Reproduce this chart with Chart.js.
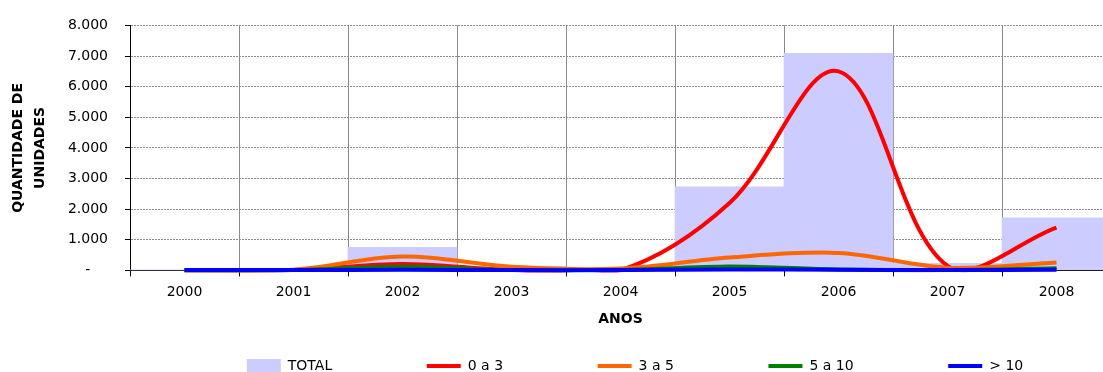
<!DOCTYPE html>
<html>
<head>
<meta charset="utf-8">
<script src="https://cdn.jsdelivr.net/npm/chart.js@4/dist/chart.umd.min.js"></script>
<style>
  html, body { margin: 0; padding: 0; overflow: hidden; background: #fff; }
  #wrap { position: absolute; left: 0; top: 0; width: 1270px; height: 383px; }
</style>
</head>
<body>
<div id="wrap"><canvas id="unidades"></canvas></div>
<script>
const anos = ['2000', '2001', '2002', '2003', '2004', '2005', '2006', '2007', '2008']
const total = [10, 40, 750, 130, 60, 2730, 7090, 230, 1720]
const de0a3 = [0, 10, 210, 10, 10, 2200, 6500, 150, 1400]
const de3a5 = [0, 20, 450, 120, 60, 420, 570, 90, 260]
const de5a10 = [0, 10, 120, 10, 10, 130, 30, 10, 70]
const acima10 = [10, 10, 20, 10, 10, 30, 20, 10, 20]
const yTicks = [0, 1000, 2000, 3000, 4000, 5000, 6000, 7000, 8000]

const fonte = 'DejaVu Sans'
const pad = ' '.repeat(19)

function milhar (v) {
  if (v === 0) return '-    '
  return String(v).replace(/\B(?=(\d{3})+(?!\d))/g, '.')
}

function linha (label, data, color, order) {
  return {
    type: 'line',
    label: label,
    data: data,
    borderColor: color,
    backgroundColor: color,
    borderWidth: 4,
    pointRadius: 0,
    pointStyle: 'line',
    tension: 0.35,
    capBezierPoints: false,
    clip: { left: 2, right: 2, top: 2, bottom: 2 },
    fill: false,
    order: order
  }
}

new Chart(document.getElementById('unidades'), {
  type: 'bar',
  data: {
    labels: anos,
    datasets: [
      {
        type: 'bar',
        label: 'TOTAL',
        data: total,
        backgroundColor: '#CCCCFF',
        borderWidth: 0,
        barPercentage: 1,
        categoryPercentage: 1,
        pointStyle: 'rect',
        order: 5
      },
      linha('0 a 3', de0a3, '#FF0000', 4),
      linha('3 a 5', de3a5, '#FF6600', 3),
      linha('5 a 10', de5a10, '#008000', 2),
      linha('> 10', acima10, '#0000FF', 1)
    ]
  },
  options: {
    responsive: true,
    maintainAspectRatio: false,
    animation: false,
    layout: { padding: { left: 0, right: 0, top: 21, bottom: 0 } },
    plugins: {
      tooltip: { enabled: false },
      legend: {
        position: 'bottom',
        labels: {
          usePointStyle: true,
          pointStyleWidth: 34,
          padding: 10,
          color: '#000',
          font: { family: fonte, size: 14 },
          sort: (a, b) => a.datasetIndex - b.datasetIndex,
          generateLabels: (chart) => {
            const items = Chart.defaults.plugins.legend.labels.generateLabels(chart)
            items.forEach((it) => {
              if (it.datasetIndex < 4) it.text = it.text + pad
            })
            return items
          }
        }
      }
    },
    scales: {
      x: {
        grid: {
          color: '#8a8a8a',
          tickColor: '#000',
          tickLength: 6,
          offset: true
        },
        border: { color: '#000', width: 1 },
        ticks: { color: '#000', padding: 8, font: { family: fonte, size: 14 } },
        title: {
          display: true,
          text: 'ANOS',
          color: '#000',
          font: { family: fonte, size: 14, weight: 'bold' },
          padding: { top: 2, bottom: 21 }
        }
      },
      y: {
        min: 0,
        max: 8000,
        afterFit: (scale) => { scale.width = 130 },
        afterBuildTicks: (scale) => { scale.ticks = yTicks.map((v) => ({ value: v })) },
        grid: { color: '#8c8c8c', tickColor: '#000', tickLength: 5 },
        border: { color: '#000', width: 1, dash: [2, 1] },
        ticks: {
          color: '#000',
          padding: 17,
          font: { family: fonte, size: 14 },
          callback: (v) => milhar(v)
        },
        title: {
          display: true,
          text: ['QUANTIDADE DE', 'UNIDADES'],
          color: '#000',
          font: { family: fonte, size: 14, weight: 'bold', lineHeight: 1.55 },
          padding: { top: 8, bottom: 0 }
        }
      },
      lado: {
        position: 'right',
        afterFit: (scale) => { scale.width = 159 },
        grid: { display: false },
        border: { display: false },
        ticks: { display: false }
      }
    }
  }
})
</script>
</body>
</html>
